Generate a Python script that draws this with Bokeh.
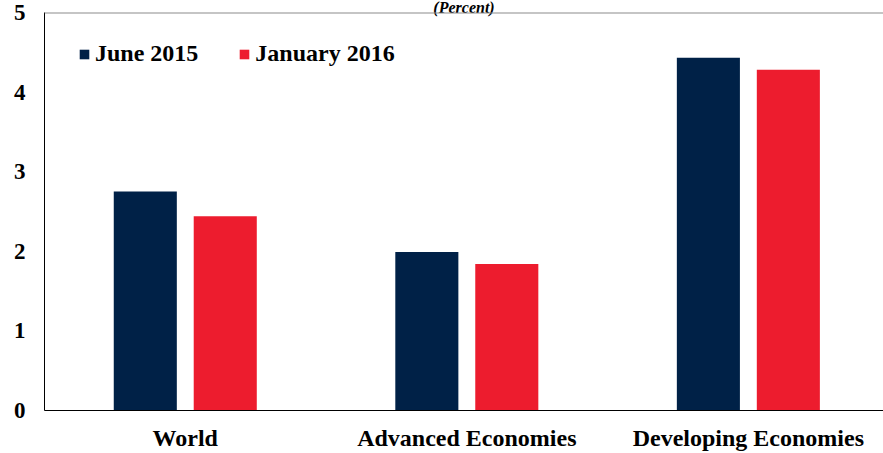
from bokeh.plotting import figure
from bokeh.models import FixedTicker, Legend, LegendItem, Span, Title
from bokeh.embed import file_html
from bokeh.resources import INLINE

categories = ["World", "Advanced Economies", "Developing Economies"]
june_2015 = [2.75, 1.99, 4.43]
jan_2016 = [2.44, 1.84, 4.28]
series_names = ["June 2015", "January 2016"]
y_ticks = [0, 1, 2, 3, 4, 5]

navy = "#002147"
red = "#ED1C2E"
font = "Liberation Serif"

xs = [i + 0.5 for i in range(len(categories))]
off = 0.142
bw = 0.224

p = figure(width=883, height=453, output_backend="svg", toolbar_location=None,
           x_range=(0, 2.98), y_range=(0, 5),
           min_border_left=44, min_border_right=0, min_border_top=0, min_border_bottom=0)
p.outline_line_color = None
p.background_fill_color = "white"
p.border_fill_color = "white"
p.grid.visible = False

r1 = p.vbar(x=[x - off for x in xs], top=june_2015, width=bw, color=navy, line_color=None)
r2 = p.vbar(x=[x + off for x in xs], top=jan_2016, width=bw, color=red, line_color=None)

p.add_layout(Span(location=5, dimension="width", line_color="#8c8c8c", line_width=2))

p.add_layout(Title(text="(Percent)", text_font=font, text_font_style="bold italic",
                   text_font_size="16px", align="center", standoff=-7, offset=0,
                   text_color="black"), "above")

p.xaxis.ticker = FixedTicker(ticks=xs)
p.xaxis.major_label_overrides = {x: c for x, c in zip(xs, categories)}
p.yaxis.ticker = FixedTicker(ticks=y_ticks)
for ax in (p.xaxis, p.yaxis):
    ax.major_tick_line_color = None
    ax.minor_tick_line_color = None
    ax.major_tick_out = 0
    ax.major_tick_in = 0
    ax.axis_line_color = "black"
    ax.major_label_text_font = font
    ax.major_label_text_font_style = "bold"
    ax.major_label_text_font_size = "23px"
    ax.major_label_text_color = "black"
p.xaxis.major_label_text_font_size = "24px"
p.xaxis.major_label_standoff = 14
p.yaxis.major_label_standoff = 19

legend = Legend(items=[LegendItem(label=series_names[0], renderers=[r1]),
                       LegendItem(label=series_names[1], renderers=[r2])],
                orientation="horizontal", location=(34, 343),
                glyph_width=12, glyph_height=12, label_standoff=5, spacing=40,
                padding=0, margin=0, border_line_color=None, background_fill_alpha=0,
                label_text_font=font, label_text_font_style="bold",
                label_text_font_size="24px", label_text_color="black")
p.add_layout(legend)

open("out.html", "w").write(file_html(p, INLINE))
